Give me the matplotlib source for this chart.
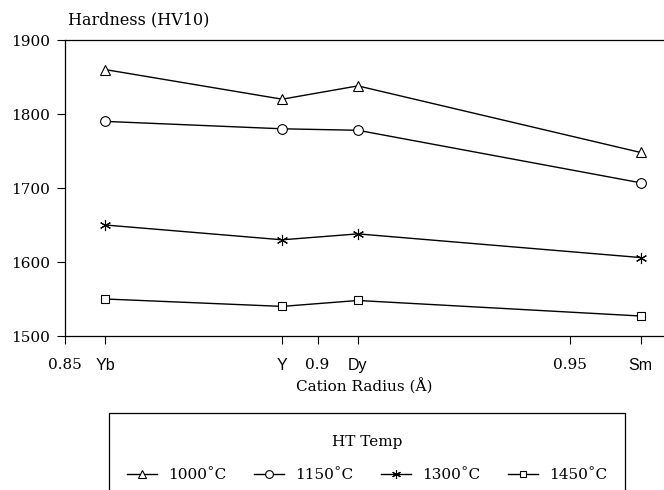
import matplotlib
matplotlib.use("Agg")
import matplotlib.pyplot as plt
from matplotlib.patches import Rectangle

# ---- data ----
elements = ["Yb", "Y", "Dy", "Sm"]
radius = [0.858, 0.893, 0.908, 0.964]
hv_1000 = [1860, 1820, 1838, 1748]
hv_1150 = [1790, 1780, 1778, 1707]
hv_1300 = [1650, 1630, 1638, 1606]
hv_1450 = [1550, 1540, 1548, 1527]
series_labels = ["1000\u02daC", "1150\u02daC", "1300\u02daC", "1450\u02daC"]
num_ticks = [0.85, 0.9, 0.95]
num_tick_labels = ["0.85", "0.9", "0.95"]
y_ticks = [1500, 1600, 1700, 1800, 1900]

W, H = 664, 490
fig = plt.figure(figsize=(W / 100, H / 100), dpi=100)
ax = fig.add_axes([65 / W, 1 - 336 / H, (W - 65) / W, (336 - 40) / H])

serif = "DejaVu Serif"
sans = "Liberation Sans"

markers = ["^", "o", (6, 2, 0), "s"]
sizes = [7, 7, 8, 6]
for vals, lab, m, s in zip([hv_1000, hv_1150, hv_1300, hv_1450], series_labels, markers, sizes):
    ax.plot(radius, vals, color="black", lw=1.0, marker=m, markersize=s,
            markerfacecolor="white", markeredgecolor="black", markeredgewidth=0.8,
            label=lab)

ax.set_xlim(0.85, 0.85 + (W - 65) / 5050)
ax.set_ylim(1500, 1900)

xt = list(num_ticks) + list(radius)
xl = list(num_tick_labels) + list(elements)
ax.set_xticks(xt)
ax.set_xticklabels(xl)
for t in ax.get_xticklabels():
    if t.get_text() in elements:
        t.set_fontfamily(sans)
        t.set_fontsize(11.5)
    else:
        t.set_fontfamily(serif)
        t.set_fontsize(11)
ax.set_yticks(y_ticks)
ax.set_yticklabels([str(v) for v in y_ticks], fontfamily=serif, fontsize=11)

ax.tick_params(axis="x", direction="out", length=6, width=0.8, pad=10)
ax.tick_params(axis="y", direction="out", length=6, width=0.8, pad=5)
ax.spines["right"].set_visible(False)
for sp in ["left", "bottom", "top"]:
    ax.spines[sp].set_linewidth(0.9)

ax.set_xlabel("Cation Radius (\u00c5)", fontfamily=serif, fontsize=11, labelpad=4)
fig.text(68 / W, 1 - 20 / H, "Hardness (HV10)", fontfamily=serif, fontsize=11.5,
         ha="left", va="center")

# legend box
fig.patches.append(Rectangle((109 / W, -0.1), (625 - 109) / W, 0.1 + 1 - 413 / H,
                             transform=fig.transFigure, fill=False,
                             edgecolor="black", lw=0.9))
fig.text(367 / W, 1 - 442 / H, "HT Temp", fontfamily=serif, fontsize=11,
         ha="center", va="center")
leg = fig.legend(*ax.get_legend_handles_labels(), loc="center",
                 bbox_to_anchor=(367 / W, 1 - 475 / H), ncol=4, frameon=False,
                 prop={"family": serif, "size": 11}, handlelength=2.0,
                 handletextpad=0.7, columnspacing=1.8, borderpad=0,
                 markerscale=0.8)

fig.savefig("out.png", dpi=100)
